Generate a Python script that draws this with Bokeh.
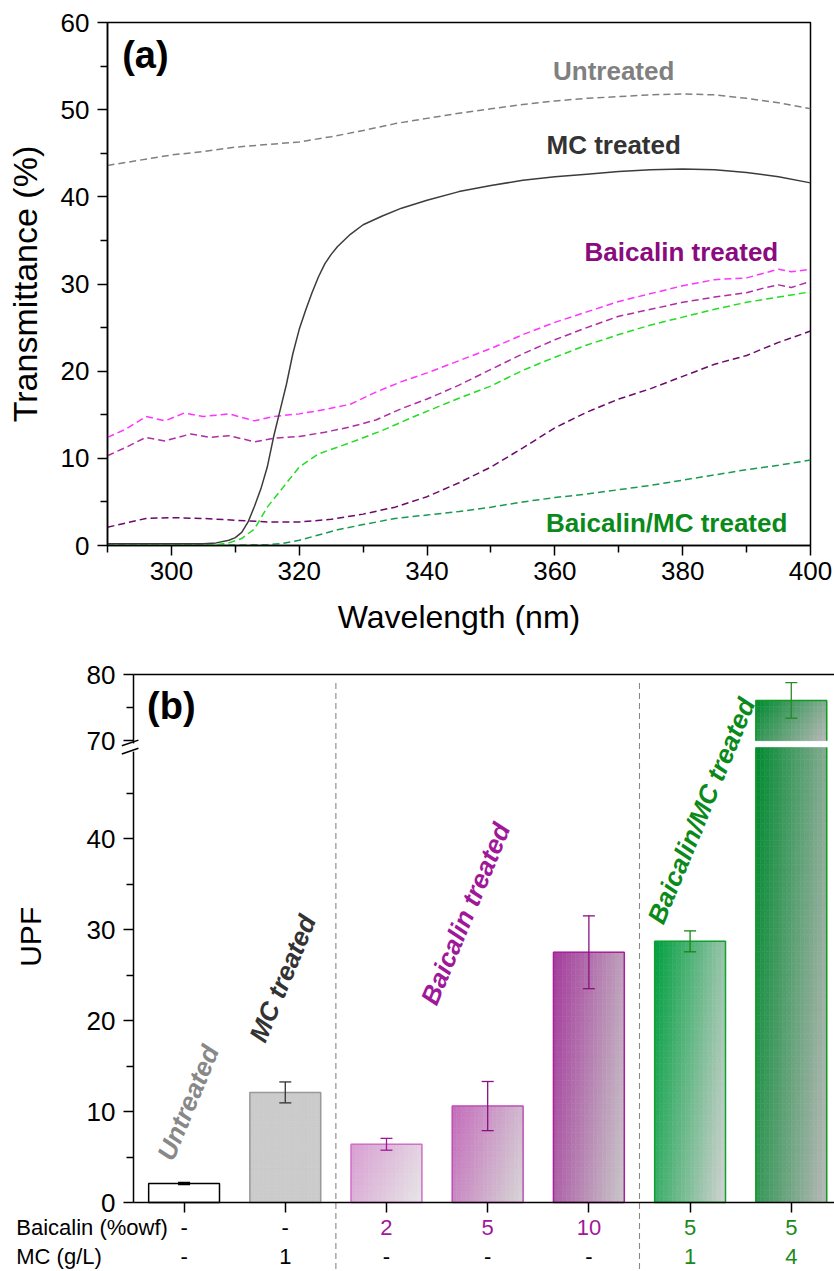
import numpy as np
from bokeh.plotting import figure
from bokeh.models import (Range1d, LinearAxis, FixedTicker, Label, Whisker, TeeHead,
                          ColumnDataSource)
from bokeh.embed import file_html
from bokeh.resources import INLINE

FONT = "Liberation Sans"

# ------------------------------------------------------------------ data (a)
wl_untreated = [290, 295, 300, 305, 310, 315, 320, 325, 330, 335, 340, 345, 350, 355,
                360, 365, 370, 375, 380, 385, 390, 395, 400]
t_untreated = [43.6, 44.2, 44.8, 45.2, 45.7, 46.0, 46.3, 46.9, 47.6, 48.4, 49.0, 49.6, 50.1,
               50.6, 51.0, 51.3, 51.5, 51.7, 51.8, 51.7, 51.3, 50.8, 50.1]

wl_mc = [290, 300, 305, 307, 309, 310, 311, 312, 313, 314, 315, 316, 317, 318, 319, 320,
         321, 322, 323, 324, 325, 326, 328, 330, 333, 336, 340, 345, 350, 355, 360, 365,
         370, 375, 380, 385, 390, 395, 400]
t_mc = [0.2, 0.2, 0.2, 0.3, 0.6, 0.9, 1.5, 2.7, 4.5, 6.5, 9.0, 12.5, 15.5, 18.5, 22.0, 24.8,
        27.0, 29.0, 30.8, 32.3, 33.4, 34.3, 35.7, 36.8, 37.8, 38.7, 39.6, 40.6, 41.3, 41.9,
        42.3, 42.6, 42.9, 43.1, 43.2, 43.1, 42.8, 42.3, 41.6]

wl_baic2 = [290, 293, 296, 299, 302, 305, 309, 313, 316, 320, 324, 328, 332, 336, 340, 345,
            350, 355, 360, 365, 370, 375, 380, 385, 390, 393, 395, 397, 400]
t_baic2 = [12.4, 13.4, 14.8, 14.3, 15.2, 14.8, 15.1, 14.3, 14.8, 15.1, 15.6, 16.2, 17.6, 18.8,
           19.8, 21.2, 22.6, 24.2, 25.6, 26.8, 28.0, 28.9, 29.8, 30.5, 30.7, 31.3, 31.7, 31.4,
           31.7]

wl_baic5 = [290, 293, 296, 299, 303, 306, 309, 313, 316, 320, 324, 328, 332, 336, 340, 345,
            350, 355, 360, 365, 370, 375, 380, 385, 390, 393, 395, 397, 400]
t_baic5 = [10.3, 11.3, 12.4, 12.0, 12.8, 12.4, 12.6, 11.9, 12.3, 12.5, 13.0, 13.6, 14.4, 15.7,
           16.8, 18.4, 20.2, 22.0, 23.6, 25.0, 26.3, 27.1, 27.9, 28.5, 29.0, 29.6, 29.9, 29.6,
           30.3]

wl_baic10 = [290, 293, 296, 300, 305, 310, 315, 320, 325, 330, 335, 340, 345, 350, 355, 360,
             365, 370, 375, 380, 385, 390, 393, 395, 400]
t_baic10 = [2.1, 2.6, 3.1, 3.2, 3.1, 2.9, 2.7, 2.7, 3.0, 3.6, 4.4, 5.6, 7.2, 9.0, 11.2, 13.5,
            15.3, 16.8, 18.0, 19.4, 20.8, 21.8, 22.7, 23.3, 24.6]

wl_bmc1 = [290, 300, 305, 307, 309, 311, 313, 315, 317.5, 320, 323, 328, 333, 338, 345, 350,
           355, 360, 365, 370, 375, 380, 385, 390, 395, 400]
t_bmc1 = [0.2, 0.1, 0.1, 0.1, 0.3, 0.8, 1.9, 4.4, 6.7, 9.0, 10.5, 11.8, 13.2, 14.8, 16.9,
          18.3, 20.1, 21.6, 23.0, 24.2, 25.3, 26.2, 27.1, 27.9, 28.5, 29.1]

wl_bmc4 = [290, 300, 310, 315, 317, 320, 323, 326, 330, 335, 340, 345, 350, 355, 360, 365,
           370, 375, 380, 385, 390, 395, 400]
t_bmc4 = [0.2, 0.1, 0.05, 0.1, 0.2, 0.6, 1.2, 1.8, 2.4, 3.1, 3.5, 3.9, 4.4, 5.0, 5.5, 5.9,
          6.4, 6.9, 7.5, 8.1, 8.7, 9.2, 9.8]

x_ticks_a = [300, 320, 340, 360, 380, 400]
x_minor_a = [290, 310, 330, 350, 370, 390]
y_ticks_a = [0, 10, 20, 30, 40, 50, 60]
y_minor_a = [5, 15, 25, 35, 45, 55]

# ------------------------------------------------------------------ data (b)
positions = [1, 2, 3, 4, 5, 6, 7]
upf = [2.1, 12.1, 6.4, 10.6, 27.5, 28.7, 76.1]
upf_err = [0.12, 1.15, 0.65, 2.7, 4.0, 1.15, 2.7]
baicalin_row = ["-", "-", "2", "5", "10", "5", "5"]
mc_row = ["-", "1", "-", "-", "-", "1", "4"]
group_separators = [2.5, 5.5]
y_ticks_low = [0, 10, 20, 30, 40]
y_minor_low = [5, 15, 25, 35, 45]
y_ticks_up = [70, 80]
y_minor_up = [75]

LOW_MAX = 58.0     # value of the lower (0-50) scale at the top of the axes box
UP_MAX = 80.0      # value of the upper (70-80) scale at the top of the axes box
BREAK_LOW = 50.0
BREAK_HIGH = 70.0
# panel (b) view window in lower-scale units (room for table below / axis left)
XB0, XB1 = -0.814, 7.427
YB0, YB1 = -7.58, 60.66


def style_axis(ax, size="26px"):
    ax.axis_line_width = 1.5
    ax.axis_line_color = "black"
    ax.major_tick_line_width = 1.5
    ax.minor_tick_line_width = 1.5
    ax.major_tick_out = 10
    ax.major_tick_in = 0
    ax.minor_tick_out = 7
    ax.minor_tick_in = 0
    ax.major_label_text_font = FONT
    ax.major_label_text_font_size = size
    ax.major_label_text_color = "black"
    ax.axis_label_text_font = FONT
    ax.axis_label_text_font_style = "normal"
    ax.axis_label_text_color = "black"


# ================================================================== panel (a)
p1 = figure(width=834, height=650, x_range=Range1d(290, 400), y_range=Range1d(0, 60),
            output_backend="svg", toolbar_location=None,
            min_border_left=107, min_border_right=24, min_border_top=22,
            min_border_bottom=105,
            x_axis_label="Wavelength (nm)", y_axis_label="Transmittance (%)")
p1.grid.visible = False
p1.outline_line_color = "black"
p1.outline_line_width = 1.5
p1.background_fill_color = "white"
p1.border_fill_color = "white"
style_axis(p1.xaxis[0])
style_axis(p1.yaxis[0])
p1.xaxis[0].ticker = FixedTicker(ticks=x_ticks_a, minor_ticks=x_minor_a)
p1.yaxis[0].ticker = FixedTicker(ticks=y_ticks_a, minor_ticks=y_minor_a)
p1.xaxis[0].axis_label_text_font_size = "32px"
p1.yaxis[0].axis_label_text_font_size = "34px"
p1.xaxis[0].major_label_standoff = 6
p1.xaxis[0].axis_label_standoff = 16
p1.yaxis[0].major_label_standoff = 8
p1.yaxis[0].axis_label_standoff = 14

series = [
    (wl_untreated, t_untreated, "#808080", "7 4"),
    (wl_baic10, t_baic10, "#6a0a6a", "7 4"),
    (wl_bmc4, t_bmc4, "#189a50", "7 4"),
    (wl_bmc1, t_bmc1, "#22dd22", "7 4"),
    (wl_baic5, t_baic5, "#b02ca4", "7 4"),
    (wl_baic2, t_baic2, "#ff33ff", "7 4"),
]
for xs, ys, col, dash in series:
    p1.line(xs, ys, line_color=col, line_width=1.5, line_dash=dash)
p1.line(wl_mc, t_mc, line_color="#3c3c3c", line_width=1.5)

for txt, x, y, col in [("Untreated", 369.2, 54.4, "#808080"),
                       ("MC treated", 369.2, 45.9, "#333333"),
                       ("Baicalin treated", 379.8, 33.7, "#8b0a80"),
                       ("Baicalin/MC treated", 377.5, 2.6, "#0a8a1a")]:
    p1.add_layout(Label(x=x, y=y, text=txt, text_align="center", text_baseline="middle",
                        text_font=FONT, text_font_size="26px", text_font_style="bold",
                        text_color=col))
p1.add_layout(Label(x=292.3, y=56.3, text="(a)", text_align="left", text_baseline="middle",
                    text_font=FONT, text_font_size="38px", text_font_style="bold",
                    text_color="black"))

# ================================================================== panel (b)
p2 = figure(width=834, height=621, x_range=Range1d(XB0, XB1), y_range=Range1d(YB0, YB1),
            output_backend="svg", toolbar_location=None,
            x_axis_location=None, y_axis_location=None,
            min_border_left=0, min_border_right=0, min_border_top=0, min_border_bottom=0)
p2.extra_y_ranges = {"upper": Range1d(YB0 * UP_MAX / LOW_MAX, YB1 * UP_MAX / LOW_MAX)}
p2.grid.visible = False
p2.outline_line_color = None
p2.background_fill_color = "white"
p2.border_fill_color = "white"

scale_up = LOW_MAX / UP_MAX
up_tick_pos = [v * scale_up for v in y_ticks_up]

yax = LinearAxis(fixed_location=0.5, bounds=(0, LOW_MAX))
style_axis(yax, "26px")
yax.major_label_standoff = 8
yax.ticker = FixedTicker(ticks=y_ticks_low + up_tick_pos,
                         minor_ticks=y_minor_low + [v * scale_up for v in y_minor_up])
yax.major_label_overrides = {pos: str(v) for pos, v in zip(up_tick_pos, y_ticks_up)}
p2.add_layout(yax, "left")

xax = LinearAxis(fixed_location=0, bounds=(0.5, XB1))
style_axis(xax)
xax.ticker = FixedTicker(ticks=positions, minor_ticks=[])
xax.major_label_text_font_size = "1px"
xax.major_label_text_alpha = 0
p2.add_layout(xax, "below")

top_axis = LinearAxis(fixed_location=LOW_MAX, bounds=(0.5, XB1),
                      ticker=FixedTicker(ticks=[]), major_tick_out=0, major_tick_in=0,
                      minor_tick_out=0, minor_tick_in=0, axis_line_width=1.5,
                      major_label_text_font_size="1px", major_label_text_alpha=0)
p2.add_layout(top_axis, "above")

# y-axis title of panel (b)
p2.add_layout(Label(x=-0.518, y=29.2, text="UPF", angle=np.pi / 2, text_align="center",
                    text_baseline="middle", text_font=FONT, text_font_size="30px",
                    text_color="black"))

# bar styles (start colour top-left, end colour bottom-right, edge, error colour)
bar_styles = [
    ("#ffffff", "#ffffff", "#000000", "#000000"),
    ("#cbcbcb", "#cbcbcb", "#999999", "#333333"),
    ("#d89ed2", "#e6e6e6", "#d070c8", "#a0189a"),
    ("#c46cbb", "#d6d6d6", "#c050b8", "#8a1080"),
    ("#a43a9c", "#c8c8c8", "#a8209c", "#8a1080"),
    ("#00a040", "#d2d2d2", "#10a030", "#108a10"),
    ("#008a30", "#b8b8b8", "#109a20", "#2a8a2a"),
]
BAR_W = 0.7
NC = 16


def hex2rgb(h):
    return np.array([int(h[i:i + 2], 16) for i in (1, 3, 5)], dtype=float)


def gradient_segment(xc, bottom, top, c0, c1, rng_name, rng_span):
    a = hex2rgb(c0)
    b = hex2rgb(c1)
    nr = max(6, int(np.ceil((top - bottom) / rng_span * 90)))
    L, R, B, T, C = [], [], [], [], []
    for i in range(NC):
        for j in range(nr):
            u = (i + 0.5) / NC
            wv = 1 - (j + 0.5) / nr
            t = min(1.0, 0.72 * u + 0.28 * wv)
            c = a * (1 - t) + b * t
            col = "#%02x%02x%02x" % tuple(int(round(v)) for v in c)
            L.append(xc - BAR_W / 2 + i * BAR_W / NC)
            R.append(xc - BAR_W / 2 + (i + 1) * BAR_W / NC)
            B.append(bottom + j * (top - bottom) / nr)
            T.append(bottom + (j + 1) * (top - bottom) / nr)
            C.append(col)
    kw = {} if rng_name is None else {"y_range_name": rng_name}
    p2.quad(left=L, right=R, bottom=B, top=T, fill_color=C, line_color=C,
            line_width=0.6, **kw)


for xc, v, e, (c0, c1, edge, ecol) in zip(positions, upf, upf_err, bar_styles):
    if v > BREAK_LOW:
        gradient_segment(xc, 0, BREAK_LOW, c0, c1, None, LOW_MAX)
        gradient_segment(xc, BREAK_HIGH, v, c0, c1, "upper", UP_MAX)
        p2.segment(x0=[xc - BAR_W / 2, xc + BAR_W / 2], x1=[xc - BAR_W / 2, xc + BAR_W / 2],
                   y0=[0, 0], y1=[BREAK_LOW, BREAK_LOW], line_color=edge, line_width=1.5)
        p2.multi_line(xs=[[xc - BAR_W / 2, xc - BAR_W / 2, xc + BAR_W / 2, xc + BAR_W / 2]],
                      ys=[[BREAK_HIGH, v, v, BREAK_HIGH]], line_color=edge, line_width=1.5,
                      y_range_name="upper")
        rng = "upper"
    else:
        gradient_segment(xc, 0, v, c0, c1, None, LOW_MAX)
        p2.vbar(x=[xc], top=[v], bottom=[0], width=BAR_W, fill_color=None,
                line_color=edge, line_width=1.5)
        rng = "default"
    src = ColumnDataSource(dict(x=[xc], upper=[v + e], lower=[v - e]))
    wk = dict(base="x", upper="upper", lower="lower", source=src, line_color=ecol,
              line_width=1.3, level="overlay",
              upper_head=TeeHead(size=12, line_color=ecol, line_width=1.3),
              lower_head=TeeHead(size=12, line_color=ecol, line_width=1.3))
    if rng == "upper":
        wk["y_range_name"] = "upper"
    p2.add_layout(Whisker(**wk))

# group separators (dashed, run down through the table)
p2.segment(x0=group_separators, x1=group_separators,
           y0=[LOW_MAX - 0.9] * len(group_separators), y1=[YB0] * len(group_separators),
           line_color="#888888", line_width=1.1, line_dash="6 4")

# axis break marks
p2.segment(x0=[0.5], x1=[0.5], y0=[BREAK_LOW - 0.45], y1=[BREAK_LOW + 0.45],
           line_color="white", line_width=5, level="overlay")
p2.segment(x0=[0.385, 0.385], x1=[0.549, 0.549],
           y0=[BREAK_LOW - 0.71, BREAK_LOW + 0.19], y1=[BREAK_LOW - 0.09, BREAK_LOW + 0.81],
           line_color="black", line_width=1.5, level="overlay")

# rotated group labels
ANG = np.deg2rad(67.5)
for txt, x, y, col in [("Untreated", 0.81, 4.8, "#888888"),
                       ("MC treated", 1.72, 17.8, "#333333"),
                       ("Baicalin treated", 3.415, 21.9, "#a0189a"),
                       ("Baicalin/MC treated", 5.654, 30.8, "#0a8a1a")]:
    p2.add_layout(Label(x=x, y=y, text=txt, angle=ANG, text_align="left",
                        text_baseline="alphabetic", text_font=FONT, text_font_size="26px",
                        text_font_style="bold italic", text_color=col))

p2.add_layout(Label(x=0.634, y=54.6, text="(b)", text_align="left", text_baseline="middle",
                    text_font=FONT, text_font_size="38px", text_font_style="bold",
                    text_color="black"))

# condition table under the axis
row1_colors = ["#000000", "#000000", "#a0189a", "#a0189a", "#a0189a", "#1a8a1a", "#1a8a1a"]
row2_colors = ["#000000", "#000000", "#000000", "#000000", "#000000", "#1a8a1a", "#1a8a1a"]
ROW1_Y, ROW2_Y = -2.75, -5.95
for xc, t1, t2, c1, c2 in zip(positions, baicalin_row, mc_row, row1_colors, row2_colors):
    p2.add_layout(Label(x=xc, y=ROW1_Y, text=t1, text_align="center", text_baseline="middle",
                        text_font=FONT, text_font_size="22px", text_color=c1))
    p2.add_layout(Label(x=xc, y=ROW2_Y, text=t2, text_align="center", text_baseline="middle",
                        text_font=FONT, text_font_size="22px", text_color=c2))
for txt, y in [("Baicalin (%owf)", ROW1_Y), ("MC (g/L)", ROW2_Y)]:
    p2.add_layout(Label(x=-0.658, y=y, text=txt, text_align="left", text_baseline="middle",
                        text_font=FONT, text_font_size="22px", text_color="black"))

open("out.html", "w").write(file_html([p1, p2], INLINE))
